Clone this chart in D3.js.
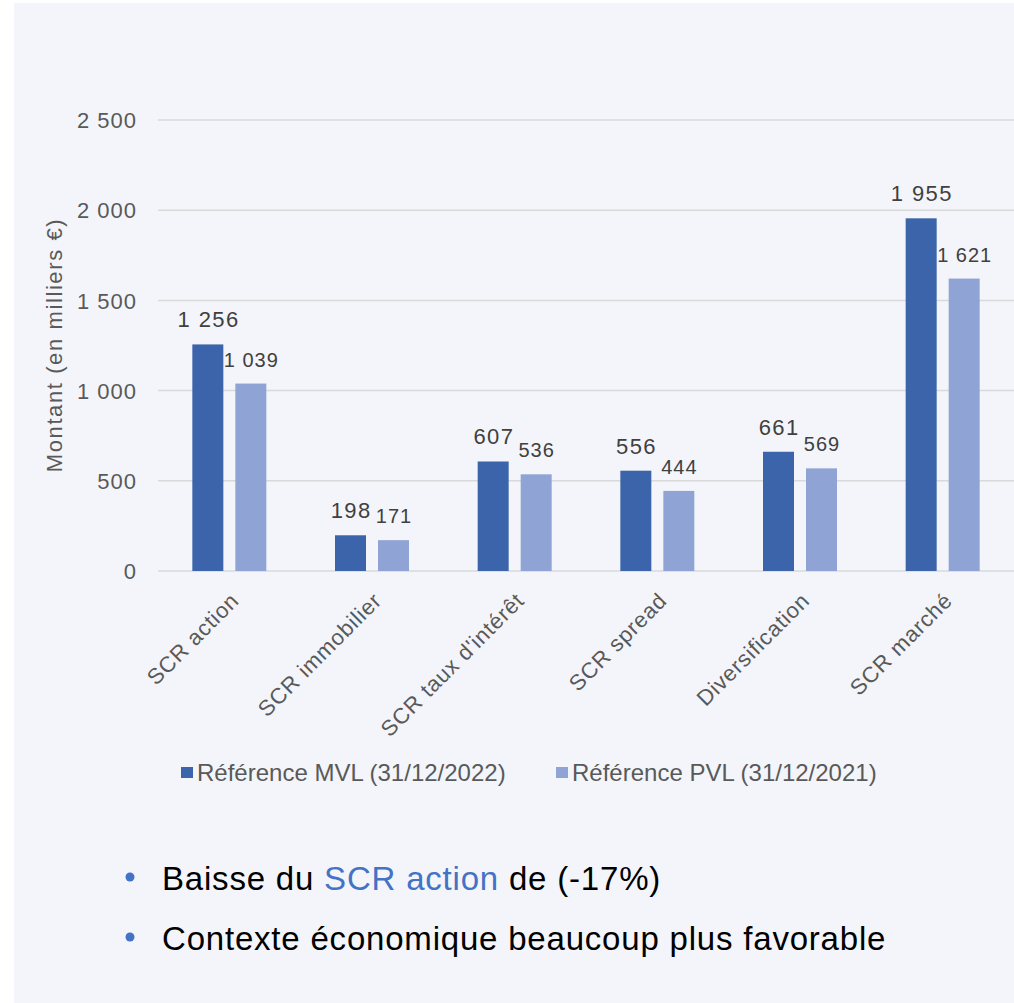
<!DOCTYPE html>
<html>
<head>
<meta charset="utf-8">
<script src="https://cdn.jsdelivr.net/npm/d3@7"></script>
<style>
  html, body { margin: 0; padding: 0; background: #ffffff; }
  svg { display: block; }
  text { font-family: "Liberation Sans", Arial, sans-serif; }
</style>
</head>
<body>
<svg id="chart" width="1014" height="1003"></svg>
<script>
// SCR components, in thousands of euros
const categories = ["SCR action", "SCR immobilier", "SCR taux d'intérêt", "SCR spread", "Diversification", "SCR marché"];
const mvl2022 = [1256, 198, 607, 556, 661, 1955];
const pvl2021 = [1039, 171, 536, 444, 569, 1621];
const seriesNames = ["Référence MVL (31/12/2022)", "Référence PVL (31/12/2021)"];
const yTicks = [0, 500, 1000, 1500, 2000, 2500];
const bullets = [
  [{ t: "Baisse du " }, { t: "SCR action", accent: true }, { t: " de (-17%)" }],
  [{ t: "Contexte économique beaucoup plus favorable" }]
];

const colors = ["#3c64ab", "#8fa4d4"];
const axisGrey = "#595959";
const fmt = v => d3.format(",")(v).replace(/,/g, " ");

const svg = d3.select("#chart");

// slide panel
svg.append("rect")
  .attr("x", 14).attr("y", 3).attr("width", 1000).attr("height", 1000)
  .attr("fill", "#f3f5fa");

const x = d3.scaleBand().domain(categories).range([158, 1014]);
const y = d3.scaleLinear().domain([0, 2500]).range([571, 120]);
const barW = 31, barGap = 12;
const offs = [-(barW + barGap / 2), barGap / 2];

// horizontal gridlines
svg.append("g").selectAll("line")
  .data(yTicks).join("line")
  .attr("x1", 158).attr("x2", 1014)
  .attr("y1", d => y(d)).attr("y2", d => y(d))
  .attr("stroke", "#d9d9d9").attr("stroke-width", 1.5);

// value axis labels
const yAxis = d3.axisLeft(y).tickValues(yTicks).tickFormat(fmt).tickSize(0).tickPadding(0);
const gy = svg.append("g").attr("transform", "translate(137,0)").call(yAxis);
gy.select(".domain").remove();
gy.selectAll("text")
  .attr("fill", axisGrey).attr("font-size", 22)
  .attr("letter-spacing", 1)
  .attr("font-family", "Liberation Sans, Arial, sans-serif")
  .attr("dy", "0.35em");

// y axis title
svg.append("text")
  .attr("transform", "translate(62,345) rotate(-90)")
  .attr("text-anchor", "middle")
  .attr("fill", axisGrey).attr("font-size", 22)
  .attr("letter-spacing", 1.6)
  .text("Montant (en milliers €)");

// bars with value labels
const series = [mvl2022, pvl2021];
const labelSizes = [22, 20];
const labelSpacing = [1.4, 1];
series.forEach((vals, si) => {
  const rows = categories.map((c, i) => ({ c, v: vals[i] }));
  const g = svg.append("g");
  g.selectAll("rect")
    .data(rows)
    .join("rect")
    .attr("x", d => x(d.c) + x.bandwidth() / 2 + offs[si])
    .attr("y", d => y(d.v))
    .attr("width", barW)
    .attr("height", d => y(0) - y(d.v))
    .attr("fill", colors[si]);
  g.selectAll("text")
    .data(rows)
    .join("text")
    .attr("x", d => x(d.c) + x.bandwidth() / 2 + offs[si] + barW / 2 + labelSpacing[si] / 2)
    .attr("y", d => y(d.v) - 17)
    .attr("text-anchor", "middle")
    .attr("letter-spacing", labelSpacing[si])
    .attr("fill", "#404040").attr("font-size", labelSizes[si])
    .text(d => fmt(d.v));
});

// category labels
const xAxis = d3.axisBottom(x).tickSize(0).tickPadding(0);
const gx = svg.append("g").attr("transform", "translate(0,571)").call(xAxis);
gx.select(".domain").remove();
gx.selectAll(".tick text")
  .attr("fill", axisGrey).attr("font-size", 22)
  .attr("font-family", "Liberation Sans, Arial, sans-serif")
  .attr("letter-spacing", 0.8)
  .attr("text-anchor", "end")
  .attr("y", 0).attr("dy", 0)
  .attr("transform", "translate(11,31) rotate(-45)");

// legend
const legend = svg.append("g");
const legendX = [181, 556];
seriesNames.forEach((name, i) => {
  legend.append("rect")
    .attr("x", legendX[i]).attr("y", 767).attr("width", 12).attr("height", 11)
    .attr("fill", colors[i]);
  legend.append("text")
    .attr("x", legendX[i] + 16).attr("y", 781)
    .attr("fill", axisGrey).attr("font-size", 24)
    .text(name);
});

// bullet points
const bulletY = [877, 937];
bullets.forEach((parts, i) => {
  svg.append("circle")
    .attr("cx", 130).attr("cy", bulletY[i]).attr("r", 4.5)
    .attr("fill", "#4472c4");
  const t = svg.append("text")
    .attr("x", 162).attr("y", bulletY[i] + 13)
    .attr("font-size", 33).attr("letter-spacing", 0.8)
    .attr("fill", "#000000");
  parts.forEach(p => {
    t.append("tspan")
      .attr("fill", p.accent ? "#4472c4" : "#000000")
      .text(p.t);
  });
});
</script>
</body>
</html>
